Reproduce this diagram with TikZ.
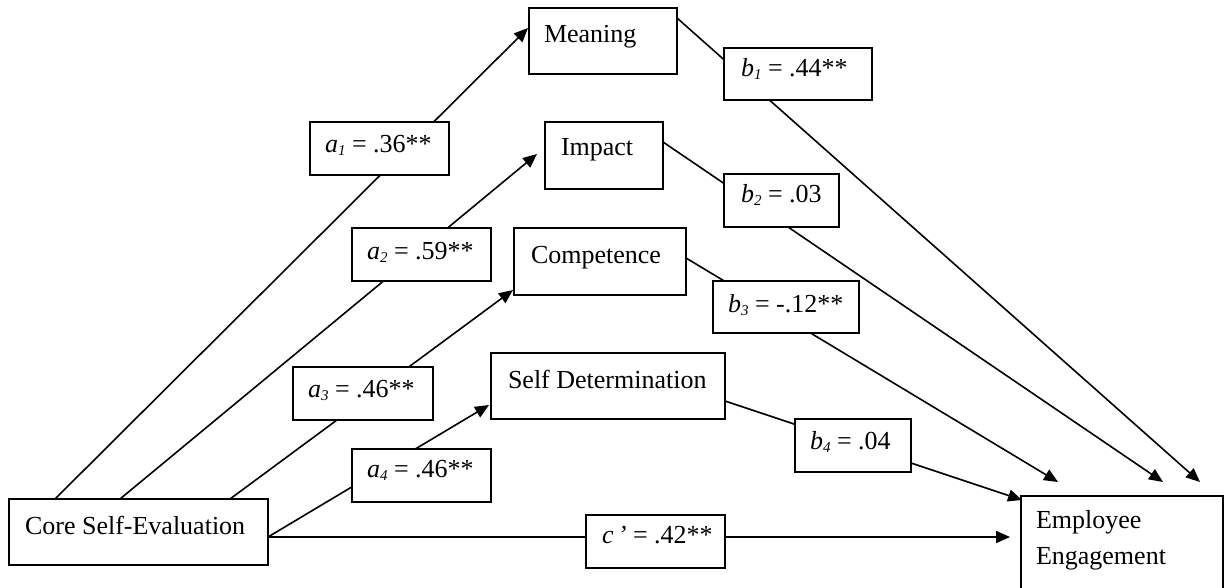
\documentclass[tikz,border=0pt]{standalone}
\usepackage{fontspec}
\setmainfont{Liberation Serif}
\usetikzlibrary{arrows.meta,backgrounds,calc}
\newcommand{\lab}[2]{\textit{#1}\raisebox{-3pt}{\fontsize{15}{15}\selectfont\itshape #2}}
\newcommand{\wbox}[2]{\makebox[#1][l]{#2}}
\begin{document}
\begin{tikzpicture}[x=1pt,y=-1pt,
  box/.style={draw, line width=1.6pt, fill=white, anchor=north west, inner xsep=15pt, inner ysep=0pt, outer sep=0pt, align=left, font=\fontsize{26}{36}\selectfont},
  conn/.style={line width=1.6pt},
  arr/.style={conn, -{Triangle[length=14pt,width=12pt]}}]
\useasboundingbox (0,0) rectangle (1228,588);
% main variables
\node[box, text height=35pt, text depth=31pt] (cse) at (9,499) {\wbox{229pt}{\hspace*{1pt}Core Self-Evaluation}};
\node[box, text height=35pt, text depth=31pt] (mean) at (529,8) {\wbox{118pt}{Meaning}};
\node[box, text height=34pt, text depth=33pt] (imp) at (545,122) {\wbox{88pt}{\hspace*{1pt}Impact}};
\node[box, text height=35pt, text depth=32pt] (comp) at (514,228) {\wbox{142pt}{\hspace*{2pt}Competence}};
\node[box, text height=35pt, text depth=31pt] (sd) at (491,353) {\wbox{204pt}{\hspace*{2pt}Self Determination}};
\node[box, text width=172pt, text height=32pt, text depth=78pt] (ee) at (1021,496) {Employee\\Engagement};
% path labels
\node[box, text height=31pt, text depth=22pt] (la1) at (310,122) {\wbox{109pt}{\lab{a}{1} = .36**}};
\node[box, text height=31pt, text depth=22pt] (la2) at (352,228) {\wbox{109pt}{\lab{a}{2} = .59**}};
\node[box, text height=30pt, text depth=23pt] (la3) at (293,367) {\wbox{110pt}{\lab{a}{3} = .46**}};
\node[box, text height=28pt, text depth=25pt] (la4) at (352,449) {\wbox{109pt}{\lab{a}{4} = .46**}};
\node[box, text height=29pt, text depth=23pt] (lb1) at (724,48) {\wbox{118pt}{\hspace*{2pt}\lab{b}{1} = .44**}};
\node[box, text height=29pt, text depth=24pt] (lb2) at (724,174) {\wbox{85pt}{\hspace*{2pt}\lab{b}{2} = .03}};
\node[box, text height=31pt, text depth=21pt] (lb3) at (713,281) {\wbox{116pt}{\lab{b}{3} = -.12**}};
\node[box, text height=30pt, text depth=23pt] (lb4) at (795,419) {\wbox{86pt}{\lab{b}{4} = .04}};
\node[box, text height=28pt, text depth=25pt] (lc) at (586,515) {\wbox{109pt}{\hspace*{1pt}\textit{c\,’} = .42**}};
% connectors
\begin{scope}[on background layer]
\draw[arr] ($(cse.north west)+(46,0)$) -- ($(mean.north west)+(-1,20)$);
\draw[arr] ($(cse.north west)+(111,0)$) -- ($(imp.north west)+(-8,32)$);
\draw[arr] ($(cse.north west)+(221,0)$) -- ($(comp.north west)+(-1,62)$);
\draw[arr] ($(cse.north east)+(0,38)$) -- ($(sd.north west)+(-2,52)$);
\draw[arr] ($(cse.north east)+(0,38)$) -- ($(ee.north west)+(-11,41)$);
\draw[arr] ($(mean.north east)+(0,10)$) -- ($(ee.north west)+(179,-14)$);
\draw[arr] ($(imp.north east)+(0,20)$) -- ($(ee.north west)+(142,-14)$);
\draw[arr] ($(comp.north east)+(0,30)$) -- ($(ee.north west)+(37,-14)$);
\draw[arr] ($(sd.north east)+(0,48)$) -- ($(ee.north west)+(1,4)$);
\end{scope}
\end{tikzpicture}
\end{document}
